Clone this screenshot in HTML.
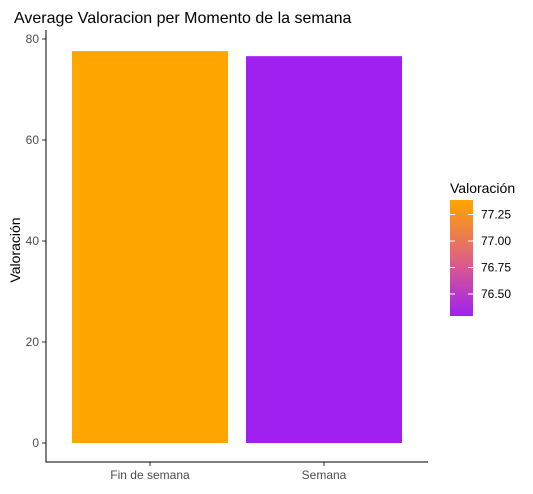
<!DOCTYPE html>
<html><head><meta charset="utf-8"><style>
body{margin:0;background:#fff;font-family:"Liberation Sans",Arial,sans-serif}
</style></head><body>
<svg id="chart" width="533" height="489" xmlns="http://www.w3.org/2000/svg">
<defs><linearGradient id="grad" x1="0" y1="0" x2="0" y2="1"><stop offset="0" stop-color="#ffa500"/><stop offset="0.5" stop-color="#e0637e"/><stop offset="1" stop-color="#a020f0"/></linearGradient></defs>
<text x="14" y="23" font-size="16" fill="#000">Average Valoracion per Momento de la semana</text>
<text transform="translate(20,250) rotate(-90)" text-anchor="middle" font-size="14" fill="#000">Valoración</text>
<g id="plot"></g>
<text x="450" y="193" font-size="14" fill="#000">Valoración</text>
<rect x="450" y="200" width="23" height="116" fill="url(#grad)"/>
<g id="legend"></g>
</svg>
<script>
const categories=["Fin de semana","Semana"];
const values=[77.6,76.6];
const colors=["#ffa500","#a020f0"];
const yTicks=[0,20,40,60,80];
const legendTicks=[77.25,77.00,76.75,76.50];
const NS="http://www.w3.org/2000/svg";
const y=v=>443-v*5.05;
const xc=i=>150+i*174;
const ly=v=>241-(v-77)*106;
function mk(t,a,p){const e=document.createElementNS(NS,t);for(const k in a)e.setAttribute(k,a[k]);p.appendChild(e);return e;}
const g=document.getElementById('plot');
values.forEach((v,i)=>{
 const r=mk('rect',{x:xc(i)-78,y:y(v),width:156,height:y(0)-y(v),fill:colors[i]},g);
 
 
 mk('line',{x1:xc(i),x2:xc(i),y1:462,y2:466,stroke:'#333'},g);
 const t=mk('text',{x:xc(i),y:479,'text-anchor':'middle','font-size':12,fill:'#4d4d4d'},g);t.textContent=categories[i];
 
 
});
yTicks.forEach(v=>{
 mk('line',{x1:42,x2:46,y1:y(v),y2:y(v),stroke:'#333'},g);
 const t=mk('text',{x:39,y:y(v)+4,'text-anchor':'end','font-size':12,fill:'#4d4d4d'},g);t.textContent=v;
 
 
});
const ax=mk('path',{d:'M46,30V462H428',fill:'none',stroke:'#000','stroke-width':1},g);


const lg=document.getElementById('legend');
legendTicks.forEach(v=>{
 mk('line',{x1:450,x2:455,y1:ly(v),y2:ly(v),stroke:'#fff'},lg);
 mk('line',{x1:468,x2:473,y1:ly(v),y2:ly(v),stroke:'#fff'},lg);
 const t=mk('text',{x:481,y:ly(v)+4,'font-size':12,fill:'#000'},lg);t.textContent=v.toFixed(2);
 
 
});
</script>
</body></html>
